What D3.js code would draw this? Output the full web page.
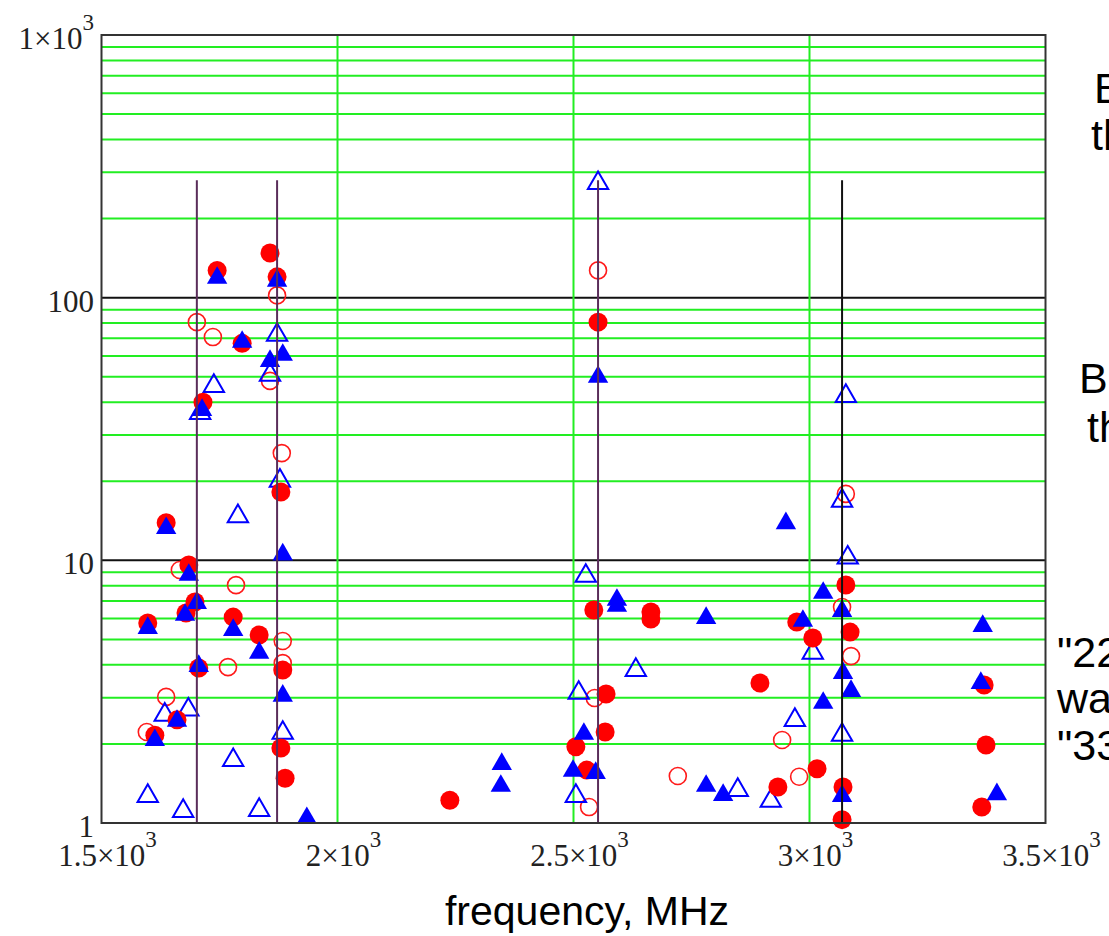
<!DOCTYPE html>
<html>
<head>
<meta charset="utf-8">
<title>frequency, MHz</title>
<script src="https://d3js.org/d3.v7.min.js"></script>
<style>
  body { margin: 0; background: #fff; }
  svg { display: block; }
</style>
</head>
<body>
<svg width="1109" height="936"></svg>
<script>
// ---- data: [frequency MHz, value] ----
const redFilled = [
  [1745,127],[1857,148],[1872,120],[1798,67],[1715,40],[1880,18.2],[1637,13.9],
  [1685,9.6],[1698,6.94],[1679,6.3],[1598,5.77],[1779,6.08],[1834,5.2],[1884,3.82],
  [1706,3.89],[1660,2.47],[1613,2.16],[1880,1.93],[1889,1.48],[2238,1.22],
  [2552,80.7],[2543,6.47],[2664,6.36],[2664,5.98],[2569,3.1],[2567,2.22],[2505,1.95],
  [2528,1.59],[2895,3.41],[2933,1.37],[2973,5.82],[3007,5.06],[3016,1.61],[3077,8.05],
  [3086,5.33],[3071,1.37],[3069,1.03],[3370,3.35],[3374,1.98],[3365,1.15]
];
const redOpen = [
  [1872,102],[1702,80.7],[1736,70.8],[1857,48.2],[1882,25.6],[1666,9.19],[1785,8.05],
  [1884,4.93],[1884,4.06],[1768,3.92],[1637,3.02],[1596,2.22],[2552,127],[2545,2.99],
  [2533,1.15],[2721,1.51],[2942,2.07],[2978,1.5],[3077,17.9],[3069,6.64],[3088,4.32]
];
const blueFilled = [
  [1745,122],[1872,119],[1798,69.6],[1857,58.9],[1884,62.1],[1713,38.3],[1637,13.6],
  [1884,10.8],[1685,9.03],[1702,7.06],[1677,6.36],[1598,5.67],[1779,5.57],[1834,4.56],
  [1706,4.06],[1884,3.13],[1660,2.51],[1613,2.12],[1935,1.07],[2348,1.72],[2346,1.42],
  [2552,51.2],[2592,7.25],[2592,6.88],[2781,6.19],[2522,2.24],[2499,1.62],[2547,1.59],
  [2781,1.42],[2817,1.31],[2950,14.2],[3029,7.71],[3069,6.58],[2986,6.03],[3071,3.82],
  [3088,3.26],[3029,2.94],[3069,1.3],[3367,5.77],[3363,3.5],[3397,1.32]
];
const blueOpen = [
  [2552,280],[1872,74],[1857,52.1],[1738,47.3],[1709,37.3],[1878,20.6],[1789,15.1],
  [1684,2.77],[1634,2.65],[1884,2.26],[1779,1.78],[1598,1.3],[1673,1.14],[1834,1.15],
  [2526,8.95],[2511,3.21],[2632,3.92],[2505,1.3],[2848,1.37],[2918,1.245],[2969,2.53],
  [3007,4.56],[3077,43.3],[3069,17.3],[3081,10.5],[3069,2.22]
];
const markerLines = [1702, 1872, 2552, 3069];
const markerLineTop = 280;

const xTicks = [1500, 2000, 2500, 3000, 3500];
const xTickLabels = [["1.5×10", "3"], ["2×10", "3"], ["2.5×10", "3"], ["3×10", "3"], ["3.5×10", "3"]];
const yTicks = [1, 10, 100, 1000];
const yTickLabels = [["1"], ["10"], ["100"], ["1×10", "3"]];
const xTitle = "frequency, MHz";
const sideLines = ["B", "th", "Bl", "th", "\"22", "wal", "\"33"];

// ---- layout ----
const pLeft = 101.5, pRight = 1045.5, pTop = 35, pBottom = 823;
const svg = d3.select("svg");

const x = d3.scaleLinear().domain([1500, 3500]).range([pLeft, pRight]);
const y = d3.scaleLog().domain([1, 1000]).range([pBottom, pTop]);

const grid = svg.append("g");
const isDecade = d => Math.abs(Math.log10(d) - Math.round(Math.log10(d))) < 1e-9;

// minor horizontal grid (green) and decades (black)
grid.selectAll("line.hy")
  .data(y.ticks().filter(d => d > 1 && d < 1000))
  .enter().append("line")
    .attr("x1", pLeft).attr("x2", pRight)
    .attr("y1", d => y(d)).attr("y2", d => y(d))
    .attr("stroke", d => isDecade(d) ? "#111" : "#22ee22")
    .attr("stroke-width", 2);

// vertical grid
grid.selectAll("line.vx")
  .data(xTicks.slice(1, -1))
  .enter().append("line")
    .attr("x1", d => x(d)).attr("x2", d => x(d))
    .attr("y1", pTop).attr("y2", pBottom)
    .attr("stroke", "#22ee22")
    .attr("stroke-width", 2);

// markers
const circle = d3.symbol().type(d3.symbolCircle).size(Math.PI * 9.5 * 9.5)();
const openCircle = d3.symbol().type(d3.symbolCircle).size(Math.PI * 8.5 * 8.5)();
const triSize = 180;
const tri = d3.symbol().type(d3.symbolTriangle).size(triSize)();
const triShift = Math.sqrt(triSize / (Math.sqrt(3) * 3)) / 2;

function plot(data, path, fill, stroke, sw, dy) {
  svg.append("g").selectAll("path")
    .data(data)
    .enter().append("path")
      .attr("d", path)
      .attr("transform", d => `translate(${x(d[0])},${y(d[1]) + dy})`)
      .attr("fill", fill)
      .attr("stroke", stroke)
      .attr("stroke-width", sw);
}
plot(redOpen, openCircle, "none", "#ff1a1a", 1.6, 0);
plot(blueOpen, tri, "none", "#0000ff", 2, triShift);
plot(redFilled, circle, "#ff0000", "none", 0, 0);
plot(blueFilled, tri, "#0000ff", "none", 0, triShift);

// band marker lines
svg.append("g").selectAll("line")
  .data(markerLines)
  .enter().append("line")
    .attr("x1", d => x(d)).attr("x2", d => x(d))
    .attr("y1", y(markerLineTop)).attr("y2", pBottom)
    .attr("stroke", (d, i) => i === markerLines.length - 1 ? "#111" : "#5a2d5a")
    .attr("stroke-width", 2);

// frame
svg.append("rect")
  .attr("x", pLeft).attr("y", pTop)
  .attr("width", pRight - pLeft).attr("height", pBottom - pTop)
  .attr("fill", "none").attr("stroke", "#333").attr("stroke-width", 2);

// tick labels
function label(g, parts) {
  g.append("tspan").text(parts[0]);
  if (parts[1]) {
    g.append("tspan").attr("dy", -19).attr("font-size", 23).text(parts[1]);
  }
}
const tickFont = "'Liberation Serif', 'DejaVu Serif', serif";

svg.append("g").selectAll("text")
  .data(xTicks)
  .enter().append("text")
    .attr("x", d => x(d) + 6)
    .attr("y", 866)
    .attr("text-anchor", "middle")
    .attr("font-family", tickFont).attr("font-size", 31).attr("fill", "#222")
    .each(function(d, i) { label(d3.select(this), xTickLabels[i]); });

svg.append("g").selectAll("text")
  .data(yTicks)
  .enter().append("text")
    .attr("x", 94)
    .attr("y", d => y(d) + 14)
    .attr("text-anchor", "end")
    .attr("font-family", tickFont).attr("font-size", 31).attr("fill", "#222")
    .each(function(d, i) { label(d3.select(this), yTickLabels[i]); });

// axis title
svg.append("text")
  .attr("x", 587).attr("y", 925)
  .attr("text-anchor", "middle")
  .attr("font-family", "'Liberation Sans', Arial, sans-serif")
  .attr("font-size", 41)
  .text(xTitle);

// clipped legend text on the right
const sideX = [1094, 1091, 1079, 1087, 1057, 1057, 1057];
const sideY = [103, 150, 393, 442, 667, 713, 760];
svg.append("g").selectAll("text")
  .data(sideLines)
  .enter().append("text")
    .attr("x", (d, i) => sideX[i])
    .attr("y", (d, i) => sideY[i])
    .attr("font-family", "'Liberation Sans', Arial, sans-serif")
    .attr("font-size", 43)
    .text(d => d);
</script>
</body>
</html>
